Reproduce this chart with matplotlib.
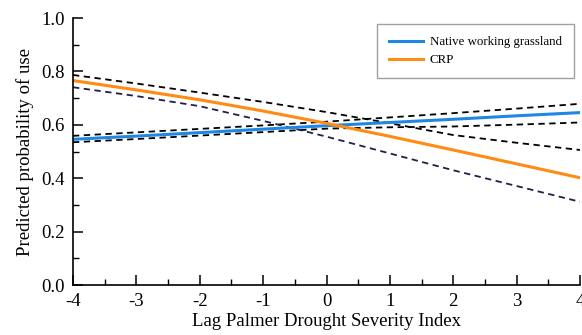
import numpy as np
import matplotlib
matplotlib.use("Agg")
import matplotlib.pyplot as plt
from matplotlib.ticker import MultipleLocator

# lag PDSI values and predicted probabilities
pdsi = [-4, -3, -2, -1, 0, 1, 2, 3, 4]

native = [0.546, 0.558, 0.571, 0.584, 0.597, 0.609, 0.621, 0.634, 0.646]
native_hi = [0.559, 0.572, 0.585, 0.598, 0.612, 0.628, 0.644, 0.661, 0.679]
native_lo = [0.535, 0.547, 0.560, 0.573, 0.586, 0.591, 0.594, 0.601, 0.609]

crp = [0.766, 0.731, 0.694, 0.652, 0.606, 0.557, 0.506, 0.454, 0.402]
crp_hi = [0.787, 0.755, 0.721, 0.686, 0.648, 0.606, 0.562, 0.533, 0.506]
crp_lo = [0.741, 0.708, 0.670, 0.615, 0.556, 0.493, 0.430, 0.371, 0.312]

plt.rcParams['font.family'] = ['Liberation Serif', 'DejaVu Serif']
plt.rcParams['axes.unicode_minus'] = False

fig = plt.figure(figsize=(5.82, 3.35), dpi=100)
ax = fig.add_axes([0.1254, 0.149, 0.8712, 0.797])

dash = (0, (3.5, 2.5))
ax.plot(pdsi, native_hi, color='black', lw=1.3, linestyle=dash)
ax.plot(pdsi, native_lo, color='black', lw=1.3, linestyle=dash)
ax.plot(pdsi, crp_hi, color='black', lw=1.3, linestyle=dash)
ax.plot(pdsi, crp_lo, color='#20204a', lw=1.3, linestyle=dash)

ax.plot(pdsi, native, color='#1f87e3', lw=2.2, label='Native working grassland')
ax.plot(pdsi, crp, color='#ff8a14', lw=2.2, label='CRP')

ax.set_xlim(-4, 4)
ax.set_ylim(0, 1.0)
ax.xaxis.set_major_locator(MultipleLocator(1))
ax.xaxis.set_minor_locator(MultipleLocator(0.5))
ax.yaxis.set_minor_locator(MultipleLocator(0.1))
ax.set_yticks([0, 0.2, 0.4, 0.6, 0.8, 1.0])
ax.set_yticklabels(['0.0', '0.2', '0.4', '0.6', '0.8', '1.0'])
ax.tick_params(which='major', direction='in', length=7, width=1.1, labelsize=13.5, pad=6)
ax.tick_params(which='minor', direction='in', length=4, width=1.0)

for s in ['top', 'right']:
    ax.spines[s].set_visible(False)
for s in ['left', 'bottom']:
    ax.spines[s].set_linewidth(1.2)

ax.set_xlabel('Lag Palmer Drought Severity Index', fontsize=13.5, labelpad=2)
ax.set_ylabel('Predicted probability of use', fontsize=13.5, labelpad=5)

leg = ax.legend(loc='upper left', bbox_to_anchor=(0.6, 0.978), fontsize=9.3,
                frameon=True, fancybox=False, edgecolor='#888888', handlelength=2.6,
                handletextpad=0.5, borderpad=0.95, borderaxespad=0, labelspacing=0.45)
leg.get_frame().set_linewidth(1.0)

fig.savefig('out.png', dpi=100)
